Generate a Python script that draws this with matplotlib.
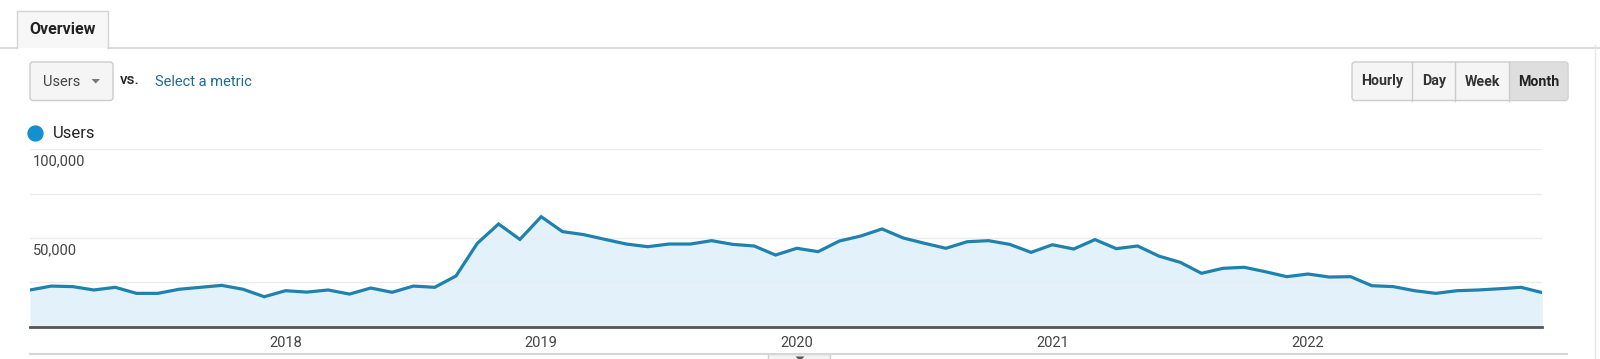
"""Analytics-style 'Users' overview: monthly users, Jan 2017 - Dec 2022."""

import matplotlib

matplotlib.use("Agg")
import matplotlib.pyplot as plt
from matplotlib.patches import FancyBboxPatch, Rectangle, Polygon
import matplotlib.transforms as mtransforms

plt.rcParams["font.family"] = ["Roboto", "DejaVu Sans"]

# monthly users, Jan 2017 .. Dec 2022
users = [
    20700, 22900, 22600, 20700, 22200, 18800, 18800, 21100, 22200, 23300, 21100, 16900,   # 2017
    20300, 19500, 20700, 18400, 21800, 19400, 22900, 22200, 28600, 47000, 57900, 49200,   # 2018
    62000, 53600, 51900, 49200, 46600, 45100, 46600, 46600, 48500, 46400, 45500, 40400,   # 2019
    44200, 42300, 48300, 51100, 55100, 50000, 47000, 44200, 47900, 48500, 46400, 41900,   # 2020
    46200, 43800, 49100, 44000, 45500, 39800, 36300, 30100, 32900, 33500, 31000, 28200,   # 2021
    29700, 28000, 28200, 23100, 22600, 20300, 18800, 20300, 20700, 21400, 22200, 19200,   # 2022
]
year_labels = ["2018", "2019", "2020", "2021", "2022"]
year_ticks  = [12, 24, 36, 48, 60]          # January of each labelled year
grid_vals   = [25000, 50000, 75000, 100000]
tick_labels = {50000: "50,000", 100000: "100,000"}
buttons     = ["Hourly", "Day", "Week", "Month"]

W, H = 1600, 359
LINE = "#1f82ae"
FILL = "#e3f2fa"
TXT  = "#444444"

fig = plt.figure(figsize=(W / 100, H / 100), dpi=100)
fig.patch.set_facecolor("white")

# --- chrome layer in pixel coordinates ---
bg = fig.add_axes([0, 0, 1, 1])
bg.set_xlim(0, W)
bg.set_ylim(H, 0)
bg.axis("off")

# tab
bg.add_patch(Rectangle((17, 11), 91, 36.7, facecolor="#f7f7f7",
                       edgecolor="none"))
bg.plot([17, 17, 108, 108], [47.7, 11, 11, 47.7], color="#d4d4d4", lw=1)
bg.plot([0, 17], [47.7, 47.7], color="#d4d4d4", lw=1.2)
bg.plot([108, W], [47.7, 47.7], color="#d4d4d4", lw=1.2)
bg.text(62.5, 29.5, "Overview", ha="center", va="center",
        fontsize=11.5, fontweight="bold", color="#222222")

# right border
bg.plot([1595, 1595], [45, H], color="#e6e6e6", lw=1)

# metric dropdown
bg.add_patch(FancyBboxPatch((30, 62), 83, 38.5,
                            boxstyle="round,pad=0,rounding_size=3",
                            facecolor="#f5f5f5", edgecolor="#cccccc", lw=1))
bg.text(43, 81.5, "Users", ha="left", va="center", fontsize=10.5, color="#444444")
bg.add_patch(Polygon([[91.5, 79], [100, 79], [95.75, 83.5]], closed=True,
                     facecolor="#777777", edgecolor="none"))
bg.text(120, 79.5, "vs.", ha="left", va="center", fontsize=11,
        fontweight="medium", color="#222222")
bg.text(155, 81.5, "Select a metric", ha="left", va="center", fontsize=10.5,
        color="#1f6a8f")

# Hourly / Day / Week / Month
edges = [1352, 1412.3, 1455, 1509, 1568]
bg.add_patch(FancyBboxPatch((edges[0], 62), edges[-1] - edges[0], 38.5,
                            boxstyle="round,pad=0,rounding_size=3",
                            facecolor="#f5f5f5", edgecolor="#cccccc", lw=1))
bg.add_patch(Rectangle((edges[3] + 0.5, 62.5), edges[4] - edges[3] - 1.5, 37.5,
                       facecolor="#dedede", edgecolor="none"))
for i, name in enumerate(buttons):
    x0, x1 = edges[i], edges[i + 1]
    if 0 < i:
        bg.plot([x0, x0], [62, 100.5], color="#cccccc", lw=1)
    bg.text((x0 + x1) / 2, 81.5, name, ha="center", va="center",
            fontsize=10.2, fontweight="bold",
            color="#222222" if name == "Month" else "#333333")

# legend
bg.scatter([35], [132.7], s=115, color="#148fcf", zorder=3)
bg.text(52.5, 134, "Users", ha="left", va="center", fontsize=12, color="#222222")

# bottom separator and small handle
bg.plot([30, 1567], [353.5, 353.5], color="#d6d6d6", lw=1.5)
bg.add_patch(Rectangle((768, 353.5), 62, 8, facecolor="#f3f3f3",
                       edgecolor="#d0d0d0", lw=1))
bg.add_patch(Polygon([[795.5, 356.5], [804.5, 356.5], [800, 361]], closed=True,
                     facecolor="#555555", edgecolor="none"))

# --- chart ---
x0_px, x1_px = 30, 1542.3
y_top, y_bot = 149.3, 326.7
ax = fig.add_axes([x0_px / W, (H - y_bot) / H,
                   (x1_px - x0_px) / W, (y_bot - y_top) / H])
ax.patch.set_alpha(0)

months = list(range(len(users)))
ax.fill_between(months, users, 0, color=FILL, linewidth=0, zorder=1)
ax.plot(months, users, color=LINE, linewidth=2.3, solid_joinstyle="miter",
        zorder=3)

ax.set_xlim(0, len(users) - 1)
ax.set_ylim(0, 100000)
ax.set_yticks(grid_vals)
ax.set_yticklabels([])
ax.yaxis.grid(True, color="#ececec", linewidth=1, zorder=0)
ax.tick_params(axis="y", length=0)
ax.set_xticks(year_ticks)
ax.set_xticklabels(year_labels, fontsize=10.5, color=TXT)
ax.tick_params(axis="x", length=0, pad=7)

for s in ("top", "right", "left"):
    ax.spines[s].set_visible(False)
ax.spines["bottom"].set_color("#555555")
ax.spines["bottom"].set_linewidth(2)
ax.spines["bottom"].set_zorder(4)

lbl = mtransforms.blended_transform_factory(ax.transAxes, ax.transData)
for v, s in tick_labels.items():
    ax.text(0.002, v - 3000, s, transform=lbl, ha="left", va="top",
            fontsize=10.5, color=TXT, zorder=5)

fig.savefig("out.png", dpi=100)
